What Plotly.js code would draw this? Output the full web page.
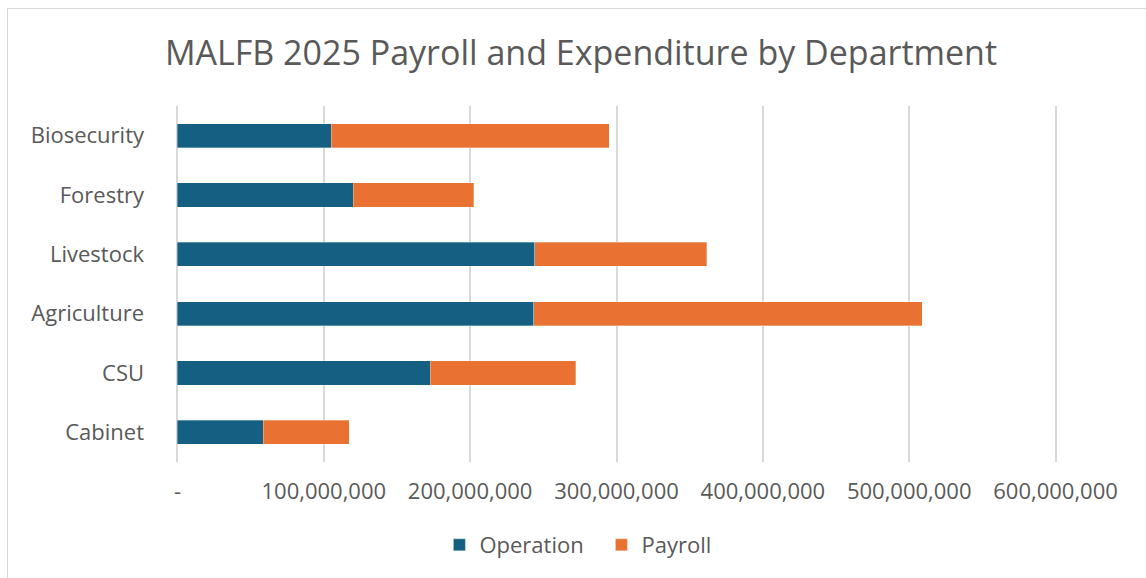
<!DOCTYPE html>
<html>
<head>
<meta charset="utf-8">
<script src="https://cdn.plot.ly/plotly-3.0.1.min.js"></script>
<style>
html,body{margin:0;padding:0;background:#fff;}
#wrap{position:relative;width:1146px;height:578px;overflow:hidden;}
#chart{position:absolute;left:0;top:0;width:1146px;height:578px;}
#frame{position:absolute;left:7px;top:8px;width:1160px;height:600px;border:1px solid #D9D9D9;pointer-events:none;}
</style>
</head>
<body>
<div id="wrap"><div id="chart"></div><div id="frame"></div></div>
<script>
// Departments, listed bottom to top as drawn
const departments = ["Cabinet", "CSU", "Agriculture", "Livestock", "Forestry", "Biosecurity"];
// Values in units of currency
const operation = [58700000, 172600000, 243300000, 244200000, 120000000, 105000000];
const payroll   = [58600000, 99600000, 265700000, 117300000, 82400000, 189900000];
// X axis ticks
const xTickVals = [0, 100000000, 200000000, 300000000, 400000000, 500000000, 600000000];
const xTickText = ["-", "100,000,000", "200,000,000", "300,000,000", "400,000,000", "500,000,000", "600,000,000"];

const FONT = "Open Sans, Liberation Sans, sans-serif";
const TXT = "#595959";

const traces = [
  {type: "bar", orientation: "h", name: "Operation", y: departments, x: operation,
   marker: {color: "#156082", line: {color: "rgba(255,255,255,0.6)", width: 0.5}}, hoverinfo: "x+y"},
  {type: "bar", orientation: "h", name: "Payroll", y: departments, x: payroll,
   marker: {color: "#E97132", line: {color: "rgba(255,255,255,0.6)", width: 0.5}}, hoverinfo: "x+y"}
];

const layout = {
  width: 1146, height: 578,
  paper_bgcolor: "rgba(0,0,0,0)", plot_bgcolor: "#fff",
  margin: {l: 175.5, r: 88.5, t: 106, b: 116},
  barmode: "stack", bargap: 0.595,
  font: {family: FONT, color: TXT},
  title: {text: "MALFB 2025 Payroll and Expenditure by Department",
    font: {family: FONT, size: 34, color: TXT},
    x: 0.507, xref: "container", xanchor: "center",
    y: 0.908, yref: "container", yanchor: "middle"},
  xaxis: {range: [-1000000, 601000000], tickvals: xTickVals, ticktext: xTickText,
    showgrid: true, gridcolor: "#D9D9D9", gridwidth: 2, zeroline: false,
    showline: false, ticks: "", ticklabelstandoff: 14,
    tickfont: {family: FONT, size: 22, color: TXT}, fixedrange: true},
  yaxis: {categoryorder: "array", categoryarray: departments,
    showgrid: false, zeroline: false, showline: false, ticks: "", ticklabelstandoff: 31,
    tickfont: {family: FONT, size: 22, color: TXT}, fixedrange: true},
  showlegend: true,
  legend: {orientation: "h", x: 0.5248, xref: "container", xanchor: "center",
    y: 0.057, yref: "container", yanchor: "middle",
    font: {family: FONT, size: 22, color: TXT}, traceorder: "normal",
    entrywidth: 117, entrywidthmode: "pixels", bgcolor: "rgba(0,0,0,0)"}
};

Plotly.newPlot("chart", traces, layout, {staticPlot: true, displayModeBar: false});
</script>
</body>
</html>
